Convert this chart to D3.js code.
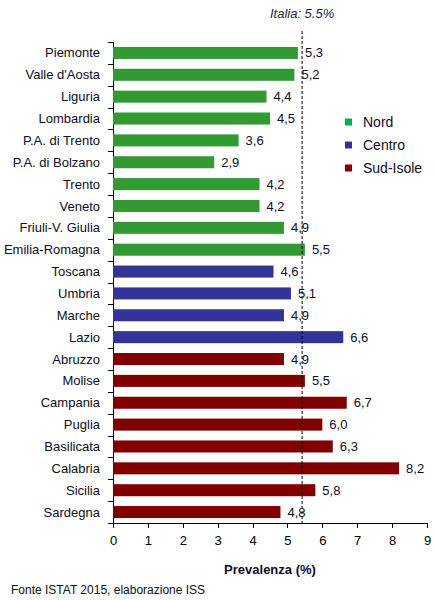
<!DOCTYPE html>
<html>
<head>
<meta charset="utf-8">
<script src="https://cdn.jsdelivr.net/npm/d3@7"></script>
<style>
  body { margin: 0; background: #fff; }
  svg { font-family: "Liberation Sans", Arial, sans-serif; }
  .axis path, .axis line { stroke: #000; shape-rendering: crispEdges; }
  .axis text { font-size: 13px; fill: #000; }
</style>
</head>
<body>
<svg width="434" height="600"></svg>
<script>
  var regions = ["Piemonte", "Valle d'Aosta", "Liguria", "Lombardia", "P.A. di Trento", "P.A. di Bolzano",
    "Trento", "Veneto", "Friuli-V. Giulia", "Emilia-Romagna", "Toscana", "Umbria", "Marche", "Lazio",
    "Abruzzo", "Molise", "Campania", "Puglia", "Basilicata", "Calabria", "Sicilia", "Sardegna"];
  var values = [5.3, 5.2, 4.4, 4.5, 3.6, 2.9, 4.2, 4.2, 4.9, 5.5, 4.6, 5.1, 4.9, 6.6,
    4.9, 5.5, 6.7, 6.0, 6.3, 8.2, 5.8, 4.8];
  var areas = ["Nord", "Nord", "Nord", "Nord", "Nord", "Nord", "Nord", "Nord", "Nord", "Nord",
    "Centro", "Centro", "Centro", "Centro",
    "Sud-Isole", "Sud-Isole", "Sud-Isole", "Sud-Isole", "Sud-Isole", "Sud-Isole", "Sud-Isole", "Sud-Isole"];
  var legendNames = ["Nord", "Centro", "Sud-Isole"];
  var xTicks = [0, 1, 2, 3, 4, 5, 6, 7, 8, 9];
  var italiaLine = 5.42;
  var italiaLabel = "Italia: 5.5%";

  var barColor = { "Nord": "#339933", "Centro": "#333399", "Sud-Isole": "#800000" };
  var legendColor = { "Nord": "#00b050", "Centro": "#333399", "Sud-Isole": "#800000" };

  var svg = d3.select('svg');
  var marginLeft = 113, marginTop = 42, width = 314, height = 481;

  var chart = svg.append('g')
    .attr('transform', `translate(${marginLeft}, ${marginTop})`);

  var xScale = d3.scaleLinear()
    .domain([0, 9])
    .range([0, width]);

  var yScale = d3.scaleBand()
    .domain(regions)
    .range([0, height])
    .paddingInner(0.45)
    .paddingOuter(0.225);

  // x axis
  chart.append('g')
    .attr('class', 'axis')
    .attr('transform', `translate(0, ${height})`)
    .call(d3.axisBottom(xScale).tickValues(xTicks).tickSize(5).tickSizeOuter(0).tickPadding(6))
    .selectAll('text').attr('dy', '0.85em');

  // y axis: ticks between categories
  var yAxis = chart.append('g').attr('class', 'axis');
  yAxis.append('line')
    .attr('x1', 0).attr('x2', 0).attr('y1', 0).attr('y2', height);
  yAxis.selectAll('.tk')
    .data(d3.range(regions.length + 1))
    .enter()
    .append('line')
    .attr('x1', -5).attr('x2', 0)
    .attr('y1', (i) => Math.round(i * height / regions.length) + 0.5)
    .attr('y2', (i) => Math.round(i * height / regions.length) + 0.5);

  chart.selectAll('.cat')
    .data(regions)
    .enter()
    .append('text')
    .attr('x', -13)
    .attr('y', (d) => yScale(d) + yScale.bandwidth() / 2)
    .attr('dy', '0.35em')
    .attr('text-anchor', 'end')
    .attr('font-size', '13px')
    .attr('fill', '#0d0d26')
    .text((d) => d);

  // bars
  var rows = regions.map((r, i) => ({ region: r, value: values[i], area: areas[i] }));

  chart.selectAll('.bar')
    .data(rows)
    .enter()
    .append('rect')
    .attr('class', 'bar')
    .attr('x', 0)
    .attr('y', (d) => yScale(d.region))
    .attr('width', (d) => xScale(d.value))
    .attr('height', yScale.bandwidth())
    .attr('fill', (d) => barColor[d.area]);

  // national average line
  chart.append('line')
    .attr('x1', xScale(italiaLine)).attr('x2', xScale(italiaLine))
    .attr('y1', -11).attr('y2', height)
    .attr('stroke', '#000')
    .attr('stroke-width', 1)
    .attr('stroke-dasharray', '3,2');

  chart.append('text')
    .attr('x', xScale(italiaLine))
    .attr('y', -24)
    .attr('text-anchor', 'middle')
    .attr('font-size', '13px')
    .attr('font-style', 'italic')
    .attr('fill', '#1f1f3f')
    .text(italiaLabel);

  // value labels
  chart.selectAll('.value')
    .data(rows)
    .enter()
    .append('text')
    .attr('x', (d) => xScale(d.value) + 7)
    .attr('y', (d) => yScale(d.region) + yScale.bandwidth() / 2)
    .attr('dy', '0.35em')
    .attr('font-size', '13px')
    .attr('fill', '#0d0d26')
    .text((d) => d3.format('.1f')(d.value).replace('.', ','));

  // legend
  var legend = svg.append('g')
    .selectAll('g')
    .data(legendNames)
    .enter()
    .append('g')
    .attr('transform', (d, i) => `translate(345, ${122 + i * 23})`);

  legend.append('rect')
    .attr('x', 0).attr('y', -3.5)
    .attr('width', 7).attr('height', 7)
    .attr('fill', (d) => legendColor[d]);

  legend.append('text')
    .attr('x', 18)
    .attr('dy', '0.35em')
    .attr('font-size', '14px')
    .attr('fill', '#0d0d26')
    .text((d) => d);

  // titles
  svg.append('text')
    .attr('x', marginLeft + width / 2)
    .attr('y', 574)
    .attr('text-anchor', 'middle')
    .attr('font-size', '13px')
    .attr('font-weight', 'bold')
    .attr('fill', '#0d0d26')
    .text('Prevalenza (%)');

  svg.append('text')
    .attr('x', 11)
    .attr('y', 594)
    .attr('font-size', '12px')
    .attr('fill', '#0d0d26')
    .text('Fonte ISTAT 2015, elaborazione ISS');
</script>
</body>
</html>
